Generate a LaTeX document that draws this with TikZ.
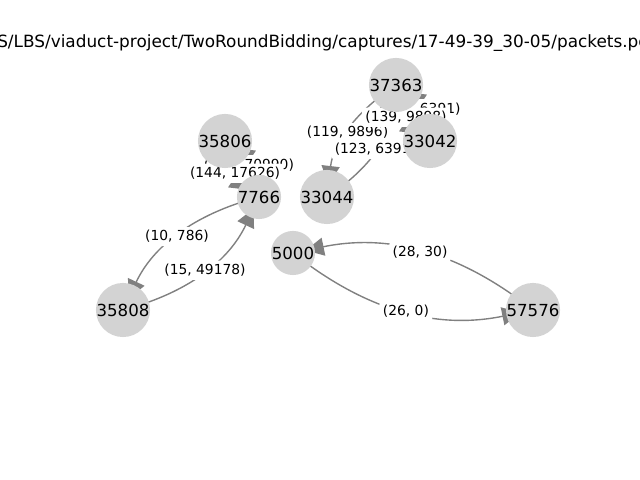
\documentclass[tikz,border=0pt]{standalone}
\usepackage{fontspec}
\setmainfont{DejaVu Sans}
\usepackage{tikz}
\usetikzlibrary{arrows.meta}
\definecolor{nodegray}{RGB}{211,211,211}
\definecolor{edgegray}{RGB}{128,128,128}
\pgfdeclarelayer{edgelayer}
\pgfdeclarelayer{lbllayer}
\pgfsetlayers{edgelayer,lbllayer,main}
\tikzset{
  pkt/.style={circle,fill=nodegray,inner sep=0pt,minimum size=11.2mm,
              font=\fontsize{12}{14}\selectfont},
  arr/.style={draw=edgegray,line width=1pt,
              -{Triangle[length=4.6mm,width=4.6mm,fill=edgegray]},
              shorten >=3.3mm},
  lbl/.style={fill=white,rounded corners=2pt,inner sep=2.5pt,
              font=\fontsize{10}{12}\selectfont},
  ttl/.style={inner sep=0pt,font=\fontsize{12.2}{14}\selectfont},
}

\begin{document}
\begin{tikzpicture}[x=0.254mm,y=0.254mm]
  \useasboundingbox (0,0) rectangle (640,480);
  \begin{scope}
    \clip (0,0) rectangle (640,480);
    \node[ttl,anchor=base west] (title) at (-3,432) {S/LBS/viaduct-project/TwoRoundBidding/captures/17-49-39\_30-05/packets.pcap};
  \end{scope}

  \node[pkt] (n37363) at (396,395) {37363};
  \node[pkt] (n33042) at (430,339) {33042};
  \node[pkt] (n35806) at (225,339) {35806};
  \node[pkt] (n7766)  at (259,283) {7766};
  \node[pkt] (n33044) at (327,283) {33044};
  \node[pkt] (n5000)  at (293,227) {5000};
  \node[pkt] (n35808) at (123,170) {35808};
  \node[pkt] (n57576) at (533,170) {57576};

  \begin{pgfonlayer}{edgelayer}
    \fill[white] (0,0) rectangle (640,480);
    \draw[arr](n7766.center)  to[bend right=25] coordinate[pos=0.5](m1)  (n35808.center);
    \draw[arr](n35808.center) to[bend right=25] coordinate[pos=0.5](m2)  (n7766.center);
    \draw[arr](n5000.center)  to[bend right=25] coordinate[pos=0.5](m3)  (n57576.center);
    \draw[arr](n57576.center) to[bend right=25] coordinate[pos=0.5](m4)  (n5000.center);
    \draw[arr](n37363.center) to[bend right=25] coordinate[pos=0.5](m5)  (n33044.center);
    \draw[arr](n33044.center) to[bend right=25] coordinate[pos=0.5](m6)  (n37363.center);
    \draw[arr](n37363.center) to[bend right=25] coordinate[pos=0.5](m7)  (n33042.center);
    \draw[arr](n33042.center) to[bend right=25] coordinate[pos=0.5](m8)  (n37363.center);
    \draw[arr](n35806.center) to[bend right=25] coordinate[pos=0.5](m9)  (n7766.center);
    \draw[arr](n7766.center)  to[bend right=25] coordinate[pos=0.5](m10) (n35806.center);
  \end{pgfonlayer}

  \begin{pgfonlayer}{lbllayer}
    \node[lbl](l1)  at (m1)  {(10, 786)};
    \node[lbl](l2)  at (m2)  {(15, 49178)};
    \node[lbl](l3)  at (m3)  {(26, 0)};
    \node[lbl](l4)  at (m4)  {(28, 30)};
    \node[lbl](l5)  at (m5)  {(119, 9896)};
    \node[lbl](l6)  at (m6)  {(123, 6391)};
    \node[lbl](l8)  at (m8)  {(121, 6391)};
    \node[lbl](l7)  at (m7)  {(139, 9898)};
    \node[lbl](l10) at (m10) {(148, 70990)};
    \node[lbl](l9)  at (m9)  {(144, 17626)};
  \end{pgfonlayer}
\end{tikzpicture}
\end{document}
